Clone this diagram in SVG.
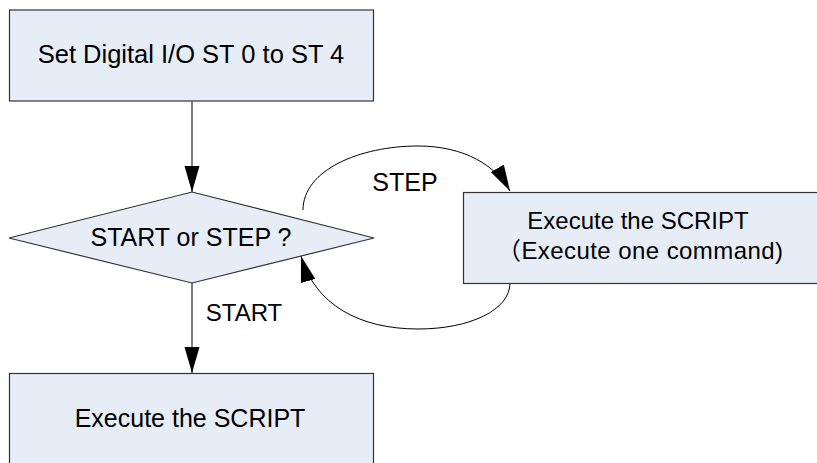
<svg xmlns="http://www.w3.org/2000/svg" width="817" height="463" viewBox="0 0 817 463">
<style>
.box{fill:#E7EDF7;stroke:#333;stroke-width:1.2}
.t{font-family:"Liberation Sans",Arial,"Noto Sans CJK SC",sans-serif;font-size:25px;fill:#000;text-anchor:middle}
.s{font-size:24px}
.c{fill:none;stroke:#000;stroke-width:1}
</style>
<defs>
<marker id="ah" markerUnits="userSpaceOnUse" markerWidth="27" markerHeight="16" refX="26" refY="8" orient="auto">
<path d="M0,0.5 L26,8 L0,15.5 z" fill="#000"/>
</marker>
</defs>
<g id="connectors">
<path class="c" d="M192,101 V192" marker-end="url(#ah)"/>
<path class="c" d="M192,283 V373" marker-end="url(#ah)"/>
<path class="c" d="M303,210 C303,170 360,146 418,146 C465,146 496,166 510,191" marker-end="url(#ah)"/>
<path class="c" d="M510,283 C510,310 470,329 418,329 C360,329 315,305 301,256" marker-end="url(#ah)"/>
<text class="t" x="405" y="191">STEP</text>
<text class="t s" x="244" y="321">START</text>
</g>
<g id="n1">
<rect class="box" x="9.5" y="10" width="364" height="91"/>
<text class="t" x="191" y="63" style="font-size:25.5px">Set Digital I/O ST 0 to ST 4</text>
</g>
<g id="n2">
<polygon class="box" points="192,192 374,238 192,283 9,238"/>
<text class="t" x="191" y="246">START or STEP ?</text>
</g>
<g id="n3">
<rect class="box" x="463.5" y="192.5" width="360" height="91"/>
<text class="t s" x="638" y="229">Execute the SCRIPT</text>
<text class="t s" x="640" y="259" textLength="286">（Execute one command)</text>
</g>
<g id="n4">
<rect class="box" x="9.5" y="373.5" width="364" height="100"/>
<text class="t" x="190" y="427">Execute the SCRIPT</text>
</g>
</svg>
